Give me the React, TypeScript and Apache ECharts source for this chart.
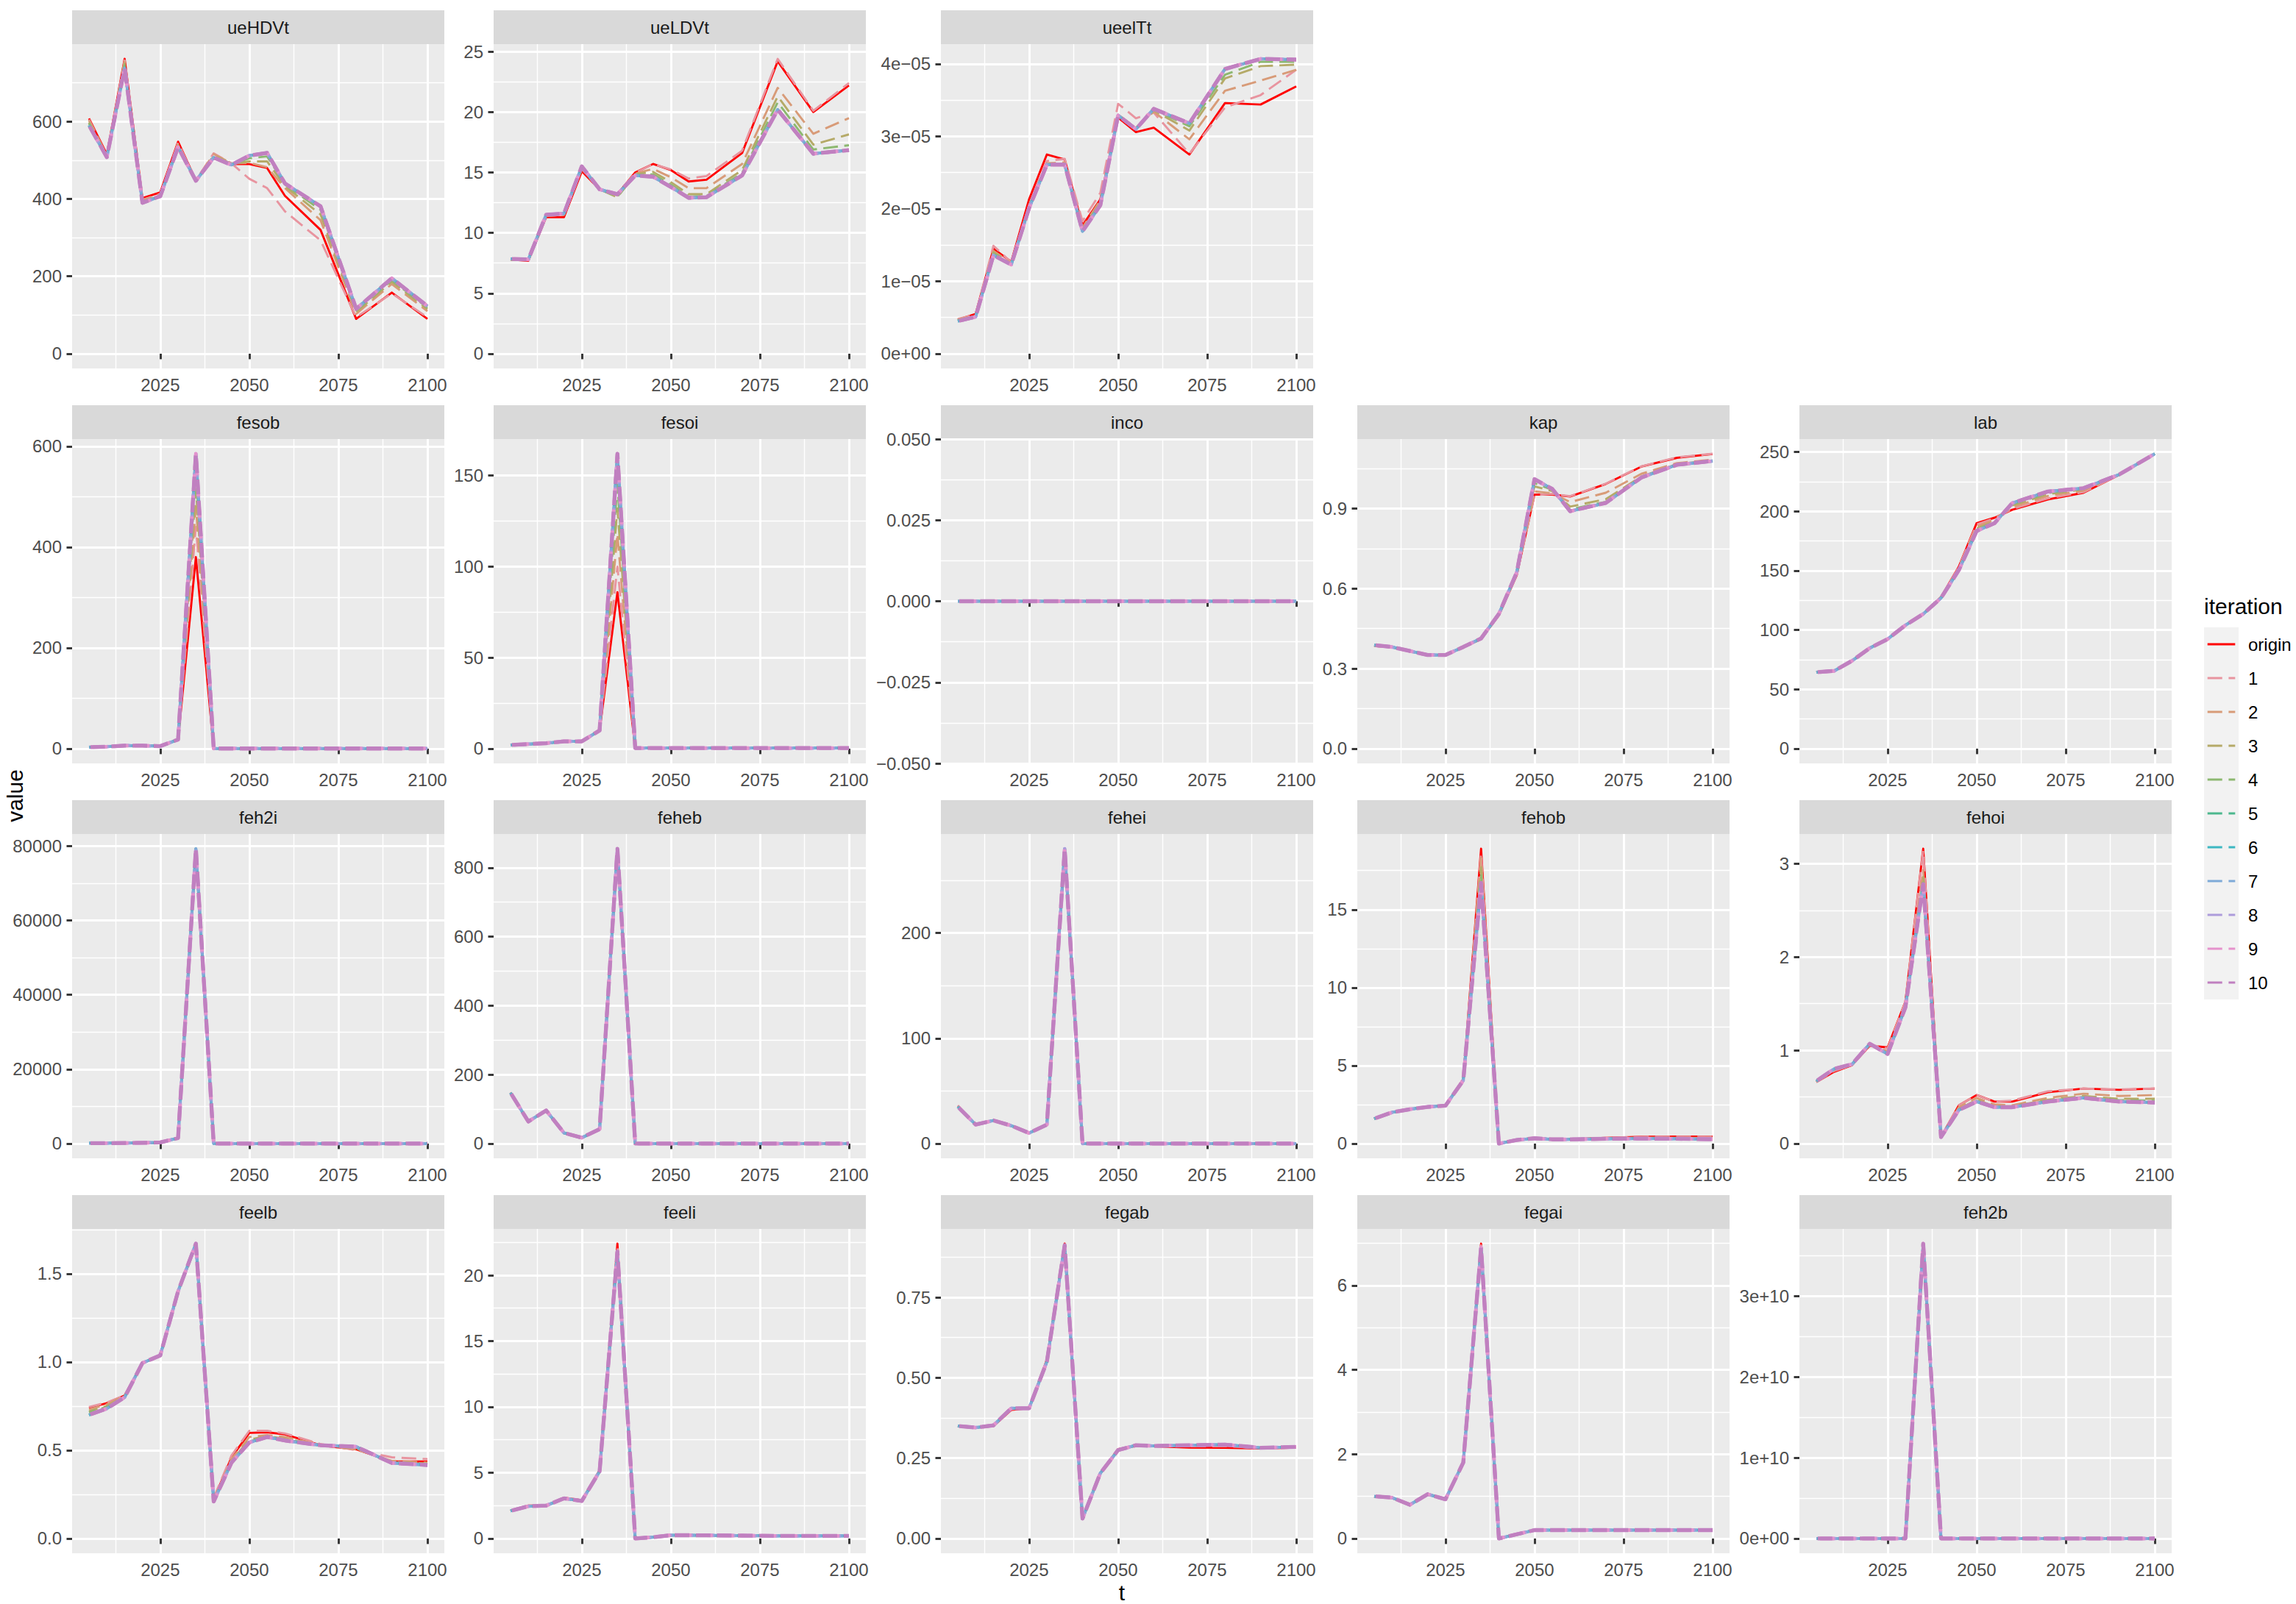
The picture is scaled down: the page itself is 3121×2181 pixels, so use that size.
import React, { useEffect, useRef } from "react";
import * as echarts from "echarts";

// ---------------- data ----------------
const years = [2005, 2010, 2015, 2020, 2025, 2030, 2035, 2040, 2045, 2050, 2055, 2060, 2070, 2080, 2090, 2100];
const iterations = ["origin", "1", "2", "3", "4", "5", "6", "7", "8", "9", "10"];
const iterationColors = ["#FF0000", "#E8949F", "#D89B78", "#B5AA68", "#8CB870", "#4DB88E", "#3DB7C2", "#7EAAD8", "#AD9CDB", "#E592CC", "#C080C0"];
const xBreaks = [2025, 2050, 2075, 2100];
const xBreakLabels = ["2025", "2050", "2075", "2100"];

// ueHDVt
const ueHDVt_origin = [608, 515, 762, 402, 417, 548, 448, 505, 490, 490, 480, 408, 320, 90, 158, 90];
const ueHDVt_it1 = [605, 512, 758, 398, 413, 545, 448, 518, 492, 452, 428, 368, 293, 94, 156, 94];
const ueHDVt_it2 = [603, 511, 755, 396, 411, 540, 448, 516, 492, 493, 482, 428, 345, 103, 180, 110];
const ueHDVt_it3 = [598, 510, 750, 394, 409, 538, 448, 512, 491, 497, 497, 433, 360, 108, 186, 115];
const ueHDVt_it4 = [595, 509, 745, 392, 408, 536, 447, 510, 490, 505, 510, 437, 372, 112, 190, 119];
const ueHDVt_late = [590, 508, 738, 390, 407, 534, 447, 507, 488, 512, 519, 440, 381, 116, 195, 123];
const ueHDVt_breaks = [0, 200, 400, 600];
const ueHDVt_labels = ["0", "200", "400", "600"];

// ueLDVt
const ueLDVt_origin = [7.8, 7.7, 11.3, 11.3, 15.1, 13.6, 13.2, 15.0, 15.7, 15.2, 14.25, 14.4, 16.6, 24.2, 20.0, 22.2];
const ueLDVt_it1 = [7.8, 7.75, 11.4, 11.5, 15.3, 13.6, 13.2, 14.95, 15.7, 15.25, 14.5, 14.7, 16.8, 24.4, 20.1, 22.4];
const ueLDVt_it2 = [7.8, 7.75, 11.4, 11.5, 15.3, 13.6, 13.1, 14.9, 15.3, 14.6, 13.7, 13.7, 15.7, 22.0, 18.2, 19.5];
const ueLDVt_it3 = [7.8, 7.75, 11.45, 11.55, 15.35, 13.6, 12.95, 14.85, 15.05, 14.2, 13.2, 13.2, 15.2, 21.3, 17.3, 18.15];
const ueLDVt_it4 = [7.8, 7.75, 11.5, 11.6, 15.4, 13.6, 13.0, 14.8, 14.85, 14.0, 13.0, 13.05, 14.95, 20.8, 16.9, 17.25];
const ueLDVt_late = [7.85, 7.8, 11.5, 11.6, 15.5, 13.6, 13.2, 14.75, 14.65, 13.8, 12.9, 12.95, 14.75, 20.2, 16.55, 16.85];
const ueLDVt_breaks = [0, 5, 10, 15, 20, 25];
const ueLDVt_labels = ["0", "5", "10", "15", "20", "25"];

// ueelTt
const ueelTt_origin = [0.47e-5, 0.55e-5, 1.45e-5, 1.27e-5, 2.13e-5, 2.75e-5, 2.68e-5, 1.77e-5, 2.13e-5, 3.26e-5, 3.06e-5, 3.12e-5, 2.75e-5, 3.46e-5, 3.44e-5, 3.69e-5];
const ueelTt_it1 = [0.48e-5, 0.54e-5, 1.49e-5, 1.26e-5, 2.05e-5, 2.66e-5, 2.69e-5, 1.83e-5, 2.22e-5, 3.45e-5, 3.25e-5, 3.33e-5, 2.76e-5, 3.40e-5, 3.57e-5, 3.92e-5];
const ueelTt_it2 = [0.47e-5, 0.53e-5, 1.42e-5, 1.25e-5, 2.04e-5, 2.63e-5, 2.64e-5, 1.74e-5, 2.12e-5, 3.30e-5, 3.12e-5, 3.34e-5, 2.96e-5, 3.63e-5, 3.77e-5, 3.92e-5];
const ueelTt_it3 = [0.46e-5, 0.52e-5, 1.40e-5, 1.24e-5, 2.03e-5, 2.62e-5, 2.62e-5, 1.72e-5, 2.09e-5, 3.29e-5, 3.10e-5, 3.36e-5, 3.08e-5, 3.80e-5, 3.97e-5, 3.99e-5];
const ueelTt_it4 = [0.46e-5, 0.52e-5, 1.38e-5, 1.24e-5, 2.02e-5, 2.61e-5, 2.61e-5, 1.70e-5, 2.07e-5, 3.29e-5, 3.10e-5, 3.37e-5, 3.14e-5, 3.85e-5, 4.03e-5, 4.03e-5];
const ueelTt_late = [0.45e-5, 0.51e-5, 1.36e-5, 1.23e-5, 2.01e-5, 2.61e-5, 2.61e-5, 1.69e-5, 2.05e-5, 3.29e-5, 3.10e-5, 3.38e-5, 3.18e-5, 3.93e-5, 4.07e-5, 4.06e-5];
const ueelTt_breaks = [0, 1e-5, 2e-5, 3e-5, 4e-5];
const ueelTt_labels = ["0e+00", "1e\u221205", "2e\u221205", "3e\u221205", "4e\u221205"];

// fesob
const fesob_origin = [3, 4, 6, 6, 5, 18, 380, 0.3, 0.3, 0.3, 0.3, 0.3, 0.3, 0.3, 0.3, 0.3];
const fesob_it1 = [3, 4, 6, 6, 5, 18, 440, 0.3, 0.3, 0.3, 0.3, 0.3, 0.3, 0.3, 0.3, 0.3];
const fesob_it2 = [3, 4, 6, 6, 5, 18, 480, 0.3, 0.3, 0.3, 0.3, 0.3, 0.3, 0.3, 0.3, 0.3];
const fesob_it3 = [3, 4, 6, 6, 5, 18, 515, 0.3, 0.3, 0.3, 0.3, 0.3, 0.3, 0.3, 0.3, 0.3];
const fesob_it4 = [3, 4, 6, 6, 5, 18, 545, 0.3, 0.3, 0.3, 0.3, 0.3, 0.3, 0.3, 0.3, 0.3];
const fesob_late = [3, 4, 6, 6, 5, 18, 585, 0.3, 0.3, 0.3, 0.3, 0.3, 0.3, 0.3, 0.3, 0.3];
const fesob_breaks = [0, 200, 400, 600];
const fesob_labels = ["0", "200", "400", "600"];

// fesoi
const fesoi_origin = [2, 2.5, 3, 4, 4, 10, 86, 0.3, 0.3, 0.3, 0.3, 0.3, 0.3, 0.3, 0.3, 0.3];
const fesoi_it1 = [2, 2.5, 3, 4, 4, 10, 100, 0.3, 0.3, 0.3, 0.3, 0.3, 0.3, 0.3, 0.3, 0.3];
const fesoi_it2 = [2, 2.5, 3, 4, 4, 10, 118, 0.3, 0.3, 0.3, 0.3, 0.3, 0.3, 0.3, 0.3, 0.3];
const fesoi_it3 = [2, 2.5, 3, 4, 4, 10, 132, 0.3, 0.3, 0.3, 0.3, 0.3, 0.3, 0.3, 0.3, 0.3];
const fesoi_it4 = [2, 2.5, 3, 4, 4, 10, 145, 0.3, 0.3, 0.3, 0.3, 0.3, 0.3, 0.3, 0.3, 0.3];
const fesoi_late = [2, 2.5, 3, 4, 4, 10, 162, 0.3, 0.3, 0.3, 0.3, 0.3, 0.3, 0.3, 0.3, 0.3];
const fesoi_breaks = [0, 50, 100, 150];
const fesoi_labels = ["0", "50", "100", "150"];

// inco
const inco_all = [0, 0, 0, 0, 0, 0, 0, 0, 0, 0, 0, 0, 0, 0, 0, 0];
const inco_breaks = [-0.05, -0.025, 0, 0.025, 0.05];
const inco_labels = ["\u22120.050", "\u22120.025", "0.000", "0.025", "0.050"];

// kap
const kap_origin = [0.385, 0.38, 0.366, 0.351, 0.351, 0.38, 0.411, 0.50, 0.65, 0.952, 0.952, 0.945, 0.992, 1.057, 1.09, 1.104];
const kap_it1 = [0.385, 0.38, 0.366, 0.351, 0.351, 0.38, 0.411, 0.50, 0.65, 0.95, 0.955, 0.946, 0.993, 1.058, 1.092, 1.105];
const kap_it2 = [0.385, 0.38, 0.366, 0.351, 0.351, 0.38, 0.411, 0.50, 0.652, 0.964, 0.957, 0.924, 0.959, 1.03, 1.07, 1.083];
const kap_it3 = [0.386, 0.38, 0.366, 0.351, 0.351, 0.38, 0.412, 0.502, 0.655, 0.983, 0.965, 0.907, 0.935, 1.02, 1.066, 1.08];
const kap_it4 = [0.387, 0.381, 0.366, 0.351, 0.351, 0.38, 0.412, 0.503, 0.657, 0.995, 0.97, 0.897, 0.925, 1.017, 1.065, 1.079];
const kap_late = [0.388, 0.381, 0.366, 0.351, 0.351, 0.381, 0.413, 0.505, 0.66, 1.01, 0.973, 0.89, 0.921, 1.016, 1.064, 1.078];
const kap_breaks = [0, 0.3, 0.6, 0.9];
const kap_labels = ["0.0", "0.3", "0.6", "0.9"];

// lab
const lab_origin = [64.4, 65.5, 74, 84.8, 92.3, 104, 113.7, 127.7, 153.4, 190, 194.6, 201.3, 210, 215.7, 230.7, 248.3];
const lab_it1 = [64.4, 65.5, 74, 84.8, 92.3, 104, 113.7, 127.7, 153, 189, 194.2, 202, 211, 216.2, 230.7, 248.3];
const lab_it2 = [64.4, 65.5, 74, 84.8, 92.3, 104, 113.6, 127.5, 152, 187, 193, 203.5, 213, 217.5, 230.8, 248.4];
const lab_it3 = [64.4, 65.5, 74, 84.8, 92.3, 104, 113.6, 127.3, 151.5, 185.5, 191.5, 205, 214.5, 218.5, 230.9, 248.4];
const lab_it4 = [64.4, 65.5, 74, 84.8, 92.3, 104, 113.5, 127.2, 151, 184.5, 190.7, 206, 215.5, 219, 231, 248.5];
const lab_late = [64.4, 65.5, 74, 84.8, 92.3, 104, 113.5, 127, 150.5, 183.5, 190, 207, 216.7, 219.5, 231, 248.5];
const lab_breaks = [0, 50, 100, 150, 200, 250];
const lab_labels = ["0", "50", "100", "150", "200", "250"];

// feh2i
const feh2i_origin = [100, 120, 150, 200, 300, 1500, 78800, 0, 0, 0, 0, 0, 0, 0, 0, 0];
const feh2i_it1 = [100, 120, 150, 200, 300, 1500, 79000, 0, 0, 0, 0, 0, 0, 0, 0, 0];
const feh2i_late = [100, 120, 150, 200, 300, 1500, 79300, 0, 0, 0, 0, 0, 0, 0, 0, 0];
const feh2i_breaks = [0, 20000, 40000, 60000, 80000];
const feh2i_labels = ["0", "20000", "40000", "60000", "80000"];

// feheb
const feheb_origin = [148, 63, 97, 30, 17, 42, 848, 0, 0, 0, 0, 0, 0, 0, 0, 0];
const feheb_it1 = [148, 63, 97, 30, 17, 42, 850, 0, 0, 0, 0, 0, 0, 0, 0, 0];
const feheb_late = [147, 64, 96, 31, 17, 42, 855, 0, 0, 0, 0, 0, 0, 0, 0, 0];
const feheb_breaks = [0, 200, 400, 600, 800];
const feheb_labels = ["0", "200", "400", "600", "800"];

// fehei
const fehei_origin = [36, 18, 22, 17, 10, 18, 276, 0, 0, 0, 0, 0, 0, 0, 0, 0];
const fehei_it1 = [36, 18, 22, 17, 10, 18, 278, 0, 0, 0, 0, 0, 0, 0, 0, 0];
const fehei_late = [35, 18, 22, 17, 10, 18, 280, 0, 0, 0, 0, 0, 0, 0, 0, 0];
const fehei_breaks = [0, 100, 200];
const fehei_labels = ["0", "100", "200"];

// fehob
const fehob_origin = [1.59, 2.0, 2.2, 2.35, 2.43, 4.13, 18.9, 0.0, 0.24, 0.37, 0.28, 0.28, 0.36, 0.44, 0.45, 0.45];
const fehob_it1 = [1.59, 2.0, 2.2, 2.35, 2.43, 4.1, 18.6, 0.0, 0.24, 0.37, 0.28, 0.28, 0.36, 0.43, 0.44, 0.44];
const fehob_it2 = [1.6, 2.0, 2.2, 2.35, 2.43, 4.08, 18.3, 0.0, 0.24, 0.36, 0.28, 0.28, 0.34, 0.38, 0.37, 0.36];
const fehob_it3 = [1.6, 2.0, 2.2, 2.35, 2.43, 4.07, 17.7, 0.0, 0.23, 0.35, 0.27, 0.27, 0.33, 0.35, 0.34, 0.32];
const fehob_it4 = [1.6, 2.0, 2.2, 2.35, 2.43, 4.06, 17.2, 0.0, 0.23, 0.34, 0.27, 0.27, 0.32, 0.33, 0.32, 0.3];
const fehob_late = [1.6, 2.0, 2.2, 2.35, 2.43, 4.05, 16.7, 0.0, 0.23, 0.34, 0.27, 0.27, 0.31, 0.32, 0.31, 0.28];
const fehob_breaks = [0, 5, 10, 15];
const fehob_labels = ["0", "5", "10", "15"];

// fehoi
const fehoi_origin = [0.66, 0.77, 0.84, 1.05, 1.03, 1.52, 3.16, 0.07, 0.41, 0.52, 0.45, 0.45, 0.55, 0.59, 0.576, 0.59];
const fehoi_it1 = [0.66, 0.78, 0.84, 1.06, 1.02, 1.52, 3.14, 0.07, 0.41, 0.52, 0.45, 0.46, 0.56, 0.59, 0.58, 0.59];
const fehoi_it2 = [0.665, 0.79, 0.845, 1.06, 0.99, 1.49, 2.93, 0.07, 0.39, 0.49, 0.42, 0.41, 0.49, 0.535, 0.51, 0.52];
const fehoi_it3 = [0.67, 0.795, 0.85, 1.065, 0.97, 1.47, 2.87, 0.07, 0.37, 0.47, 0.40, 0.40, 0.47, 0.51, 0.48, 0.48];
const fehoi_it4 = [0.67, 0.8, 0.85, 1.07, 0.965, 1.465, 2.82, 0.07, 0.365, 0.46, 0.395, 0.395, 0.46, 0.5, 0.465, 0.46];
const fehoi_late = [0.67, 0.8, 0.85, 1.07, 0.96, 1.46, 2.78, 0.07, 0.36, 0.45, 0.39, 0.39, 0.45, 0.49, 0.45, 0.44];
const fehoi_breaks = [0, 1, 2, 3];
const fehoi_labels = ["0", "1", "2", "3"];

// feelb
const feelb_origin = [0.74, 0.767, 0.81, 0.994, 1.037, 1.40, 1.66, 0.22, 0.46, 0.598, 0.602, 0.59, 0.528, 0.505, 0.436, 0.436];
const feelb_it1 = [0.745, 0.77, 0.81, 0.994, 1.037, 1.40, 1.66, 0.23, 0.47, 0.61, 0.61, 0.595, 0.535, 0.50, 0.46, 0.45];
const feelb_it2 = [0.73, 0.76, 0.81, 0.994, 1.037, 1.40, 1.655, 0.22, 0.45, 0.575, 0.585, 0.575, 0.53, 0.505, 0.44, 0.43];
const feelb_it3 = [0.72, 0.75, 0.805, 0.994, 1.037, 1.40, 1.66, 0.215, 0.44, 0.56, 0.58, 0.565, 0.53, 0.51, 0.435, 0.425];
const feelb_it4 = [0.715, 0.745, 0.80, 0.994, 1.037, 1.40, 1.665, 0.215, 0.435, 0.55, 0.578, 0.56, 0.528, 0.515, 0.43, 0.42];
const feelb_late = [0.70, 0.736, 0.80, 0.994, 1.037, 1.40, 1.67, 0.21, 0.43, 0.544, 0.575, 0.555, 0.528, 0.52, 0.428, 0.416];
const feelb_breaks = [0, 0.5, 1.0, 1.5];
const feelb_labels = ["0.0", "0.5", "1.0", "1.5"];

// feeli
const feeli_origin = [2.1, 2.5, 2.5, 3.1, 2.9, 5.2, 22.4, 0.0, 0.1, 0.25, 0.25, 0.25, 0.22, 0.2, 0.2, 0.2];
const feeli_it1 = [2.1, 2.5, 2.5, 3.1, 2.9, 5.2, 22.2, 0.0, 0.1, 0.25, 0.25, 0.25, 0.22, 0.2, 0.2, 0.2];
const feeli_late = [2.1, 2.45, 2.5, 3.05, 2.85, 5.1, 21.8, 0.0, 0.1, 0.25, 0.25, 0.24, 0.22, 0.2, 0.2, 0.2];
const feeli_breaks = [0, 5, 10, 15, 20];
const feeli_labels = ["0", "5", "10", "15", "20"];

// fegab
const fegab_origin = [0.35, 0.345, 0.35, 0.40, 0.405, 0.556, 0.917, 0.062, 0.203, 0.278, 0.288, 0.287, 0.283, 0.282, 0.28, 0.283];
const fegab_it1 = [0.35, 0.345, 0.35, 0.402, 0.405, 0.553, 0.915, 0.062, 0.203, 0.277, 0.289, 0.288, 0.287, 0.287, 0.281, 0.284];
const fegab_late = [0.35, 0.345, 0.352, 0.405, 0.405, 0.55, 0.912, 0.062, 0.203, 0.275, 0.29, 0.288, 0.29, 0.292, 0.282, 0.285];
const fegab_breaks = [0, 0.25, 0.5, 0.75];
const fegab_labels = ["0.00", "0.25", "0.50", "0.75"];

// fegai
const fegai_origin = [0.99, 0.96, 0.79, 1.06, 0.92, 1.81, 6.99, 0, 0.1, 0.2, 0.2, 0.2, 0.2, 0.2, 0.2, 0.2];
const fegai_it1 = [0.99, 0.96, 0.79, 1.06, 0.92, 1.8, 6.95, 0, 0.1, 0.2, 0.2, 0.2, 0.2, 0.2, 0.2, 0.2];
const fegai_late = [1.0, 0.97, 0.8, 1.05, 0.93, 1.8, 6.9, 0, 0.1, 0.2, 0.2, 0.2, 0.2, 0.2, 0.2, 0.2];
const fegai_breaks = [0, 2, 4, 6];
const fegai_labels = ["0", "2", "4", "6"];

// feh2b
const feh2b_origin = [0, 0, 0, 0, 0, 0, 3.55e10, 0, 0, 0, 0, 0, 0, 0, 0, 0];
const feh2b_it1 = [0, 0, 0, 0, 0, 0, 3.6e10, 0, 0, 0, 0, 0, 0, 0, 0, 0];
const feh2b_late = [0, 0, 0, 0, 0, 0, 3.65e10, 0, 0, 0, 0, 0, 0, 0, 0, 0];
const feh2b_breaks = [0, 1e10, 2e10, 3e10];
const feh2b_labels = ["0e+00", "1e+10", "2e+10", "3e+10"];

// series per panel, in iteration order: origin, 1..10
const ueHDVt = [ueHDVt_origin, ueHDVt_it1, ueHDVt_it2, ueHDVt_it3, ueHDVt_it4, ueHDVt_late, ueHDVt_late, ueHDVt_late, ueHDVt_late, ueHDVt_late, ueHDVt_late];
const ueLDVt = [ueLDVt_origin, ueLDVt_it1, ueLDVt_it2, ueLDVt_it3, ueLDVt_it4, ueLDVt_late, ueLDVt_late, ueLDVt_late, ueLDVt_late, ueLDVt_late, ueLDVt_late];
const ueelTt = [ueelTt_origin, ueelTt_it1, ueelTt_it2, ueelTt_it3, ueelTt_it4, ueelTt_late, ueelTt_late, ueelTt_late, ueelTt_late, ueelTt_late, ueelTt_late];
const fesob = [fesob_origin, fesob_it1, fesob_it2, fesob_it3, fesob_it4, fesob_late, fesob_late, fesob_late, fesob_late, fesob_late, fesob_late];
const fesoi = [fesoi_origin, fesoi_it1, fesoi_it2, fesoi_it3, fesoi_it4, fesoi_late, fesoi_late, fesoi_late, fesoi_late, fesoi_late, fesoi_late];
const inco = [inco_all, inco_all, inco_all, inco_all, inco_all, inco_all, inco_all, inco_all, inco_all, inco_all, inco_all];
const kap = [kap_origin, kap_it1, kap_it2, kap_it3, kap_it4, kap_late, kap_late, kap_late, kap_late, kap_late, kap_late];
const lab = [lab_origin, lab_it1, lab_it2, lab_it3, lab_it4, lab_late, lab_late, lab_late, lab_late, lab_late, lab_late];
const feh2i = [feh2i_origin, feh2i_it1, feh2i_late, feh2i_late, feh2i_late, feh2i_late, feh2i_late, feh2i_late, feh2i_late, feh2i_late, feh2i_late];
const feheb = [feheb_origin, feheb_it1, feheb_late, feheb_late, feheb_late, feheb_late, feheb_late, feheb_late, feheb_late, feheb_late, feheb_late];
const fehei = [fehei_origin, fehei_it1, fehei_late, fehei_late, fehei_late, fehei_late, fehei_late, fehei_late, fehei_late, fehei_late, fehei_late];
const fehob = [fehob_origin, fehob_it1, fehob_it2, fehob_it3, fehob_it4, fehob_late, fehob_late, fehob_late, fehob_late, fehob_late, fehob_late];
const fehoi = [fehoi_origin, fehoi_it1, fehoi_it2, fehoi_it3, fehoi_it4, fehoi_late, fehoi_late, fehoi_late, fehoi_late, fehoi_late, fehoi_late];
const feelb = [feelb_origin, feelb_it1, feelb_it2, feelb_it3, feelb_it4, feelb_late, feelb_late, feelb_late, feelb_late, feelb_late, feelb_late];
const feeli = [feeli_origin, feeli_it1, feeli_late, feeli_late, feeli_late, feeli_late, feeli_late, feeli_late, feeli_late, feeli_late, feeli_late];
const fegab = [fegab_origin, fegab_it1, fegab_late, fegab_late, fegab_late, fegab_late, fegab_late, fegab_late, fegab_late, fegab_late, fegab_late];
const fegai = [fegai_origin, fegai_it1, fegai_late, fegai_late, fegai_late, fegai_late, fegai_late, fegai_late, fegai_late, fegai_late, fegai_late];
const feh2b = [feh2b_origin, feh2b_it1, feh2b_late, feh2b_late, feh2b_late, feh2b_late, feh2b_late, feh2b_late, feh2b_late, feh2b_late, feh2b_late];

const panels = [
  { name: "ueHDVt", row: 0, col: 0, lines: ueHDVt, breaks: ueHDVt_breaks, labels: ueHDVt_labels },
  { name: "ueLDVt", row: 0, col: 1, lines: ueLDVt, breaks: ueLDVt_breaks, labels: ueLDVt_labels },
  { name: "ueelTt", row: 0, col: 2, lines: ueelTt, breaks: ueelTt_breaks, labels: ueelTt_labels },
  { name: "fesob", row: 1, col: 0, lines: fesob, breaks: fesob_breaks, labels: fesob_labels },
  { name: "fesoi", row: 1, col: 1, lines: fesoi, breaks: fesoi_breaks, labels: fesoi_labels },
  { name: "inco", row: 1, col: 2, lines: inco, breaks: inco_breaks, labels: inco_labels },
  { name: "kap", row: 1, col: 3, lines: kap, breaks: kap_breaks, labels: kap_labels },
  { name: "lab", row: 1, col: 4, lines: lab, breaks: lab_breaks, labels: lab_labels },
  { name: "feh2i", row: 2, col: 0, lines: feh2i, breaks: feh2i_breaks, labels: feh2i_labels },
  { name: "feheb", row: 2, col: 1, lines: feheb, breaks: feheb_breaks, labels: feheb_labels },
  { name: "fehei", row: 2, col: 2, lines: fehei, breaks: fehei_breaks, labels: fehei_labels },
  { name: "fehob", row: 2, col: 3, lines: fehob, breaks: fehob_breaks, labels: fehob_labels },
  { name: "fehoi", row: 2, col: 4, lines: fehoi, breaks: fehoi_breaks, labels: fehoi_labels },
  { name: "feelb", row: 3, col: 0, lines: feelb, breaks: feelb_breaks, labels: feelb_labels },
  { name: "feeli", row: 3, col: 1, lines: feeli, breaks: feeli_breaks, labels: feeli_labels },
  { name: "fegab", row: 3, col: 2, lines: fegab, breaks: fegab_breaks, labels: fegab_labels },
  { name: "fegai", row: 3, col: 3, lines: fegai, breaks: fegai_breaks, labels: fegai_labels },
  { name: "feh2b", row: 3, col: 4, lines: feh2b, breaks: feh2b_breaks, labels: feh2b_labels },
];

// ---------------- layout / style ----------------
const W = 3121;
const H = 2181;
const FONT = '"Liberation Sans", Arial, Helvetica, sans-serif';
const colLeft = [98, 671, 1279, 1845, 2446];
const panelTop = [60, 597, 1134, 1671];
const panelW = 506;
const panelH = 441;
const stripH = 46;
const X_MIN = 2000.25;
const X_MAX = 2104.75;
const lineW = 2.9;
const dash = [20, 8.7];
const lateWidths = [2.9, 2.9, 2.9, 2.9, 2.9, 3.3, 3.7, 4.1, 4.5, 4.9, 5.3];

function limits(lines: number[][]): [number, number] {
  let lo = 0;
  let hi = 0;
  for (const l of lines) for (const v of l) { if (v < lo) lo = v; if (v > hi) hi = v; }
  const r = hi - lo;
  if (r === 0) return [-0.05, 0.05];
  return [lo - 0.05 * r, hi + 0.05 * r];
}

function minorOf(breaks: number[], lo: number, hi: number): number[] {
  const step = breaks[1] - breaks[0];
  const ext = [breaks[0] - step, ...breaks, breaks[breaks.length - 1] + step];
  const out: number[] = [];
  for (let i = 0; i < ext.length - 1; i++) {
    const m = (ext[i] + ext[i + 1]) / 2;
    if (m >= lo && m <= hi) out.push(m);
  }
  return out;
}

function labelFor(breaks: number[], labels: string[]) {
  const step = breaks[1] - breaks[0];
  return (v: number) => {
    for (let i = 0; i < breaks.length; i++) {
      if (Math.abs(breaks[i] - v) < step * 1e-6) return labels[i];
    }
    return "";
  };
}

function buildOption() {
  const grids: any[] = [];
  const xAxes: any[] = [];
  const yAxes: any[] = [];
  const series: any[] = [];
  const graphics: any[] = [];
  const xMinor = minorOf(xBreaks, X_MIN, X_MAX);

  panels.forEach((p, gi) => {
    const left = colLeft[p.col];
    const top = panelTop[p.row];
    grids.push({
      left, top, width: panelW, height: panelH,
      show: true, backgroundColor: "#EBEBEB", borderWidth: 0,
      containLabel: false, outerBoundsMode: "none",
    });
    const [lo, hi] = limits(p.lines);
    const yMinor = minorOf(p.breaks, lo, hi);

    xAxes.push({
      type: "value", gridIndex: gi, min: X_MIN, max: X_MAX, position: "bottom",
      axisLine: { show: false },
      axisTick: { show: true, customValues: xBreaks, length: 7.5, lineStyle: { color: "#333333", width: lineW } },
      axisLabel: { show: true, customValues: xBreaks, color: "#4D4D4D", fontSize: 24, fontFamily: FONT, margin: 10, formatter: labelFor(xBreaks, xBreakLabels) },
      splitLine: { show: true, lineStyle: { color: "#FFFFFF", width: lineW } },
    });
    xAxes.push({
      type: "value", gridIndex: gi, min: X_MIN, max: X_MAX, position: "top",
      axisLine: { show: false },
      axisTick: { show: false, customValues: xMinor },
      axisLabel: { show: false, customValues: xMinor },
      splitLine: { show: true, lineStyle: { color: "#FFFFFF", width: lineW / 2 } },
    });
    yAxes.push({
      type: "value", gridIndex: gi, min: lo, max: hi, position: "left",
      axisLine: { show: false },
      axisTick: { show: true, customValues: p.breaks, length: 7.5, lineStyle: { color: "#333333", width: lineW } },
      axisLabel: { show: true, customValues: p.breaks, color: "#4D4D4D", fontSize: 24, fontFamily: FONT, margin: 14, formatter: labelFor(p.breaks, p.labels) },
      splitLine: { show: true, lineStyle: { color: "#FFFFFF", width: lineW } },
    });
    yAxes.push({
      type: "value", gridIndex: gi, min: lo, max: hi, position: "right",
      axisLine: { show: false },
      axisTick: { show: false, customValues: yMinor },
      axisLabel: { show: false, customValues: yMinor },
      splitLine: { show: true, lineStyle: { color: "#FFFFFF", width: lineW / 2 } },
    });

    p.lines.forEach((arr, k) => {
      series.push({
        type: "line",
        name: iterations[k],
        xAxisIndex: 2 * gi,
        yAxisIndex: 2 * gi,
        data: years.map((t, j) => [t, arr[j]]),
        symbol: "none",
        showSymbol: false,
        silent: true,
        z: 3,
        lineStyle: {
          color: iterationColors[k],
          width: lateWidths[k],
          type: k === 0 ? "solid" : dash,
          dashOffset: k * 2.7,
          cap: "butt",
          join: "round",
        },
      });
    });

    // facet strip
    graphics.push({
      type: "rect", shape: { x: left, y: top - stripH, width: panelW, height: stripH },
      style: { fill: "#D9D9D9" }, silent: true,
    });
    graphics.push({
      type: "text", x: left + panelW / 2, y: top - stripH / 2,
      style: { text: p.name, fill: "#1A1A1A", fontSize: 24, fontFamily: FONT, align: "center", verticalAlign: "middle" },
      silent: true,
    });
  });

  // legend
  const legX = 2996;
  const legTop = 853;
  const keyH = 46;
  graphics.push({
    type: "text", x: legX, y: 824,
    style: { text: "iteration", fill: "#000000", fontSize: 30, fontFamily: FONT, align: "left", verticalAlign: "middle" },
    silent: true,
  });
  graphics.push({
    type: "rect", shape: { x: legX, y: legTop, width: 47, height: keyH * iterations.length },
    style: { fill: "#F2F2F2" }, silent: true,
  });
  iterations.forEach((lbl, k) => {
    const cy = legTop + keyH * k + keyH / 2;
    graphics.push({
      type: "line", shape: { x1: legX + 4.7, y1: cy, x2: legX + 42.3, y2: cy },
      style: { stroke: iterationColors[k], lineWidth: lineW, lineDash: k === 0 ? null : dash, lineCap: "butt" },
      silent: true,
    });
    graphics.push({
      type: "text", x: 3056, y: cy,
      style: { text: lbl, fill: "#000000", fontSize: 24, fontFamily: FONT, align: "left", verticalAlign: "middle" },
      silent: true,
    });
  });

  // axis titles
  graphics.push({
    type: "text", x: 1525, y: 2165,
    style: { text: "t", fill: "#000000", fontSize: 30, fontFamily: FONT, align: "center", verticalAlign: "middle" },
    silent: true,
  });
  graphics.push({
    type: "text", x: 20, y: 1082, rotation: Math.PI / 2,
    style: { text: "value", fill: "#000000", fontSize: 30, fontFamily: FONT, align: "center", verticalAlign: "middle" },
    silent: true,
  });

  return {
    animation: false,
    backgroundColor: "#FFFFFF",
    textStyle: { fontFamily: FONT },
    grid: grids,
    xAxis: xAxes,
    yAxis: yAxes,
    series,
    graphic: { elements: graphics },
  };
}

export default function App() {
  const ref = useRef<HTMLDivElement>(null);
  useEffect(() => {
    document.body.style.margin = "0";
    if (!ref.current) return;
    const chart = echarts.init(ref.current, null, { renderer: "svg", width: W, height: H });
    chart.setOption(buildOption() as any);
    return () => chart.dispose();
  }, []);
  return <div ref={ref} style={{ width: W, height: H }} />;
}
